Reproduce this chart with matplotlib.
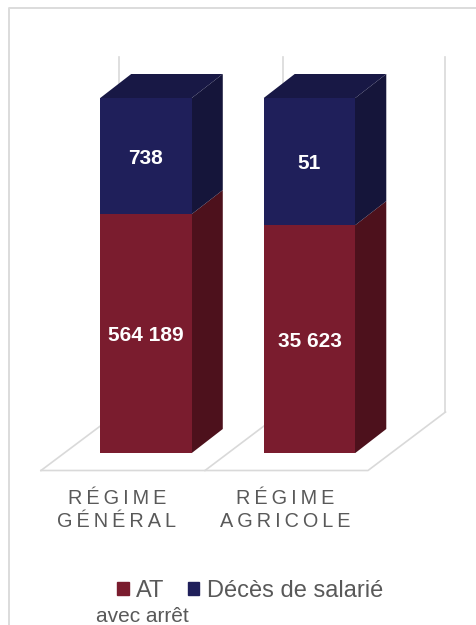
import matplotlib
matplotlib.use("Agg")
import matplotlib.pyplot as plt
from matplotlib.lines import Line2D
from matplotlib.patches import Patch, Polygon

W, H = 477, 625

regimes = ["R\u2009É\u2009G\u2009I\u2009M\u2009E\nG\u2009É\u2009N\u2009É\u2009R\u2009A\u2009L",
           "R\u2009É\u2009G\u2009I\u2009M\u2009E\nA\u2009G\u2009R\u2009I\u2009C\u2009O\u2009L\u2009E"]
at_labels = ["564 189", "35 623"]
deces_labels = ["738", "51"]
# heights in % of the column, the columns are schematic and not to scale with the labels
at_share = [67.3, 64.2]
deces_share = [32.7, 35.8]

RED, RED_SIDE = "#7a1c2e", "#4d111c"
NAVY, NAVY_SIDE, NAVY_TOP = "#1f1f5a", "#15153a", "#181845"
GRID = "#d9d9d9"
TEXT = "#595959"

plt.rcParams["font.family"] = ["Liberation Sans", "DejaVu Sans"]

fig = plt.figure(figsize=(W / 100, H / 100), dpi=100)
ax = fig.add_axes([64.25 / W, 1 - 453 / H, 327 / W, 355 / H])
ax.set_xlim(-0.5, 1.5)
ax.set_ylim(0, 100)
ax.axis("off")


def px_line(xs, ys, color=GRID, lw=1.2):
    fig.add_artist(Line2D([x / W for x in xs], [1 - y / H for y in ys],
                          color=color, lw=lw, zorder=-1))


def bar_label(x, y, s):
    ax.annotate(s, (x, y), xytext=(0, -1.5), textcoords="offset points", color="white",
                fontsize=15, fontweight="bold", ha="center", va="center", zorder=4)


# outer frame
px_line([9, 9, 477], [625, 8, 8], "#dcdcdc", 1.4)

# back wall ticks and floor
for x in [119, 282.5, 445.5]:
    px_line([x, x], [57, 412])
px_line([41, 368, 445.5], [470.5, 470.5, 412])
px_line([41, 119], [470.5, 412])
px_line([205, 282.5], [470.5, 412])

bar_w = 0.56
dx = 31 / 163.5
dy = 24 / 3.55
pos = [0, 1]

ax.bar(pos, at_share, bar_w, color=RED, zorder=3, label="AT")
ax.bar(pos, deces_share, bar_w, bottom=at_share, color=NAVY, zorder=3)

for i in pos:
    right = i + bar_w / 2
    left = i - bar_w / 2
    split = at_share[i]
    top = split + deces_share[i]
    # side faces start a little inside the front face so no light seam shows
    inner = right - 0.01
    ax.add_patch(Polygon([(inner, 0), (right, 0), (right + dx, dy), (right + dx, split + dy),
                          (right, split), (inner, split)],
                         color=RED_SIDE, lw=0, zorder=2, clip_on=False))
    ax.add_patch(Polygon([(inner, split), (right, split), (right + dx, split + dy),
                          (right + dx, top + dy), (right, top), (inner, top)],
                         color=NAVY_SIDE, lw=0, zorder=2, clip_on=False))
    ax.add_patch(Polygon([(left, top), (left + dx, top + dy), (right + dx, top + dy), (right, top)],
                         color=NAVY_TOP, lw=0, zorder=2, clip_on=False))
    bar_label(i, split / 2, at_labels[i])
    bar_label(i, split + deces_share[i] / 2, deces_labels[i])

# category names sit left of the columns, under the floor
for x, name in zip([117, 285], regimes):
    fig.text(x / W, 1 - 510 / H, name, color=TEXT, fontsize=14.3, ha="center", va="center",
             linespacing=1.3)

handles = [Patch(color=RED), Patch(color=NAVY)]
fig.legend(handles, ["AT", "Décès de salarié"], ncol=2, frameon=False, fontsize=17,
           labelcolor=TEXT, handlelength=0.5, handleheight=0.5, handletextpad=0.3,
           columnspacing=1.0, loc="center left", bbox_to_anchor=(95.5 / W, 1 - 591 / H))
fig.text(142 / W, 1 - 616 / H, "avec arrêt", color=TEXT, fontsize=15, ha="center", va="center")

fig.savefig("out.png", dpi=100)
